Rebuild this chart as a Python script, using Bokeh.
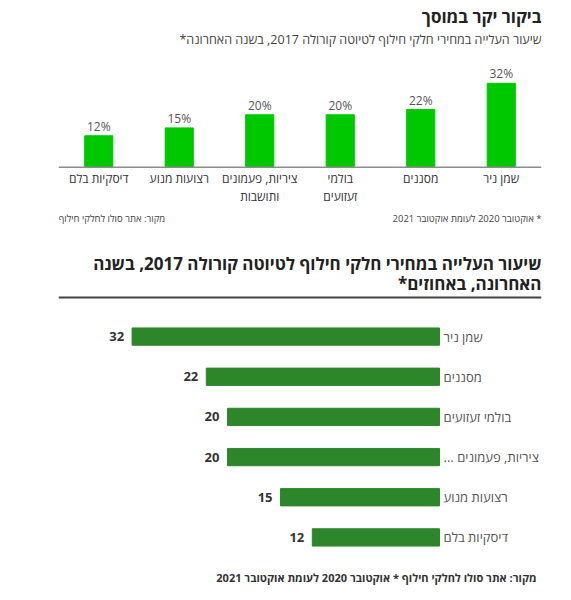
import numpy as np
from bokeh.plotting import figure
from bokeh.layouts import column
from bokeh.models import (Label, LabelSet, ColumnDataSource, FactorRange, Range1d,
                          BoxAnnotation, Span)
from bokeh.core.properties import value
from bokeh.embed import file_html
from bokeh.resources import INLINE

RLM = "\u200f"
FONT = "Open Sans"

# ---------------- data ----------------
top_title = "ביקור יקר במוסך"
top_subtitle = "שיעור העלייה במחירי חלקי חילוף לטיוטה קורולה 2017, בשנה האחרונה*" + RLM
top_categories = ["דיסקיות בלם", "רצועות מנוע", "ציריות, פעמונים\nותושבות",
                  "בולמי\nזעזועים", "מסננים", "שמן ניר"]
top_values = [12, 15, 20, 20, 22, 32]
top_source_note = "מקור: אתר סולו לחלקי חילוף"
top_date_note = RLM + "* אוקטובר 2020 לעומת אוקטובר 2021"

bottom_title_1 = "שיעור העלייה במחירי חלקי חילוף לטיוטה קורולה 2017, בשנה"
bottom_title_2 = "האחרונה, באחוזים*" + RLM
bottom_categories = ["שמן ניר", "מסננים", "בולמי זעזועים", "ציריות, פעמונים ..." + RLM,
                     "רצועות מנוע", "דיסקיות בלם"]
bottom_values = [32, 22, 20, 20, 15, 12]
bottom_note = "מקור: אתר סולו לחלקי חילוף * אוקטובר 2020 לעומת אוקטובר 2021"


def bare(fig):
    fig.outline_line_color = None
    fig.xgrid.grid_line_color = None
    fig.ygrid.grid_line_color = None
    return fig


def label(fig, x, y, text, align, size, color, bold=False):
    fig.add_layout(Label(x=x, y=y, x_units="screen", y_units="screen", text=text,
                         text_align=align, text_baseline="middle", text_font=FONT,
                         text_font_size=size, text_color=color,
                         text_font_style="bold" if bold else "normal"))


# ---------------- top chart (figure A, page y 0..300) ----------------
top_src = ColumnDataSource(dict(cat=top_categories, val=top_values,
                                lab=[f"{v}%" for v in top_values]))

top = bare(figure(width=571, height=300, x_range=FactorRange(*top_categories, range_padding=0),
                  y_range=Range1d(-50.88, 63.63), output_backend="svg", toolbar_location=None,
                  x_axis_location=None, y_axis_location=None,
                  min_border_left=58, min_border_right=30, min_border_top=0,
                  min_border_bottom=0))
top.vbar(x="cat", top="val", width=0.35, fill_color="#00c800", line_color="#00c800",
         source=top_src)
top.add_layout(Span(location=0, dimension="width", line_color="#8c8c8c", line_width=1.5))
top.add_layout(LabelSet(x="cat", y="val", text="lab", source=top_src, y_offset=1,
                        text_align="center", text_baseline="bottom", text_font=value(FONT),
                        text_font_size="12px", text_color="#555555"))
top.text(x="cat", y=0, text="cat", source=top_src, y_offset=3, text_align="center",
         text_baseline="top", text_font=value(FONT), text_font_size="12px",
         text_color="#333333", text_line_height=1.05)

# screen units: frame-relative, y measured upward from the frame bottom (frame = 483 x 300)
label(top, 483, 284, top_title, "right", "17px", "#222222", bold=True)
label(top, 483, 261, top_subtitle, "right", "12.5px", "#444444")
label(top, 0, 82, top_source_note, "left", "9.5px", "#444444")
label(top, 483, 82, top_date_note, "right", "9.5px", "#444444")

# title of the second chart
label(top, 483, 37, bottom_title_1, "right", "17px", "#222222", bold=True)
label(top, 483, 17, bottom_title_2, "right", "17px", "#222222", bold=True)
top.add_layout(BoxAnnotation(left=0, right=483, top=4, bottom=2, left_units="screen",
                             right_units="screen", top_units="screen", bottom_units="screen",
                             fill_color="#444444", fill_alpha=1.0, line_color=None))

# ---------------- bottom chart (figure B, page y 300..557) ----------------
bar_cap = 29.0  # longest bar is cut at the plot edge, as in the original
bottom_src = ColumnDataSource(dict(cat=bottom_categories, val=bottom_values,
                                   shown=np.minimum(bottom_values, bar_cap),
                                   lab=[str(v) for v in bottom_values]))

bottom = bare(figure(width=571, height=257, x_range=Range1d(35.94, -9.62),
                     y_range=FactorRange(*reversed(bottom_categories), range_padding=0),
                     output_backend="svg", toolbar_location=None, x_axis_location=None,
                     y_axis_location=None, min_border_left=58, min_border_right=30,
                     min_border_top=16, min_border_bottom=0))
bottom.hbar(y="cat", left=0, right="shown", height=0.43, fill_color="#2e862a",
            line_color="#2e862a", source=bottom_src)
bottom.add_layout(LabelSet(x="shown", y="cat", text="lab", source=bottom_src, x_offset=-8,
                           text_align="right", text_baseline="middle", text_font=value(FONT),
                           text_font_size="13px", text_font_style="bold",
                           text_color="#333333"))
bottom.text(x=0, y="cat", text="cat", source=bottom_src, x_offset=4, text_align="left",
            text_baseline="middle", text_font=value(FONT), text_font_size="13px",
            text_color="#555555")

# ---------------- footnote (figure C, page y 557..600) ----------------
note = bare(figure(width=571, height=43, x_range=Range1d(0, 1), y_range=Range1d(0, 1),
                   output_backend="svg", toolbar_location=None, x_axis_location=None,
                   y_axis_location=None, min_border_left=58, min_border_right=30,
                   min_border_top=0, min_border_bottom=0))
label(note, 478, 23, bottom_note, "right", "11px", "#333333", bold=True)

layout = column(top, bottom, note)
open("out.html", "w").write(file_html(layout, INLINE))
